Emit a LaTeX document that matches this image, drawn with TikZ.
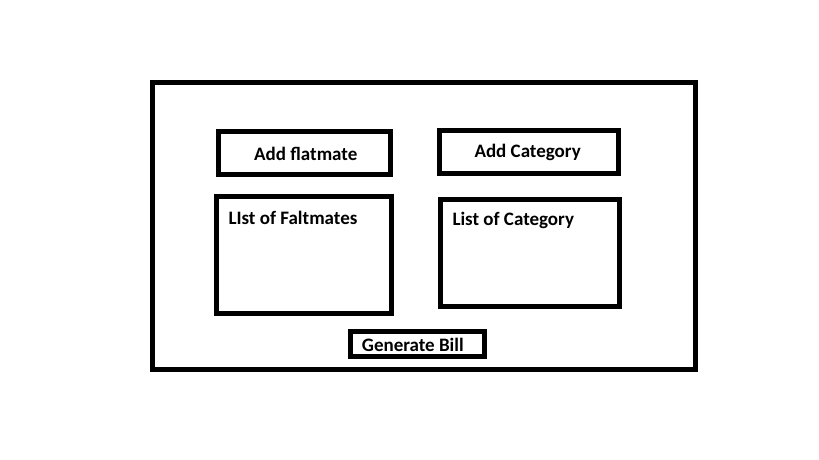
\documentclass[tikz,border=0pt]{standalone}
\usepackage{fontspec}
\setmainfont{Carlito}
\begin{document}
\begin{tikzpicture}[x=1pt,y=-1pt,
  box/.style={draw=black,line width=5pt,rectangle,inner sep=0pt,outer sep=0pt,fill=none},
  lbl/.style={inner sep=0pt,anchor=base west,font=\fontsize{19}{22}\selectfont\bfseries}]
\useasboundingbox[fill=white] (0,0) rectangle (819,460);
\node[box,minimum width=542.5pt,minimum height=287.2pt] (outer) at (423.75,226.1) {};
\node[box,minimum width=172.3pt,minimum height=43pt] (addflat) at (304.65,153) {};
\node[box,minimum width=178.7pt,minimum height=42.5pt] (addcat) at (529.15,152.05) {};
\node[box,minimum width=175pt,minimum height=117pt] (listflat) at (304,255) {};
\node[box,minimum width=178.7pt,minimum height=106.4pt] (listcat) at (530.15,253) {};
\node[box,minimum width=133.4pt,minimum height=25pt] (genbill) at (417.5,344.3) {};
\node[lbl] (taddflat) at (254,160) {Add flatmate};
\node[lbl] (taddcat) at (474.3,157.7) {Add Category};
\node[lbl] (tlistflat) at (228.3,224) {LIst of Faltmates};
\node[lbl] (tlistcat) at (452.3,225) {List of Category};
\node[lbl] (tgen) at (361.7,351.7) {Generate Bill};
\end{tikzpicture}
\end{document}
